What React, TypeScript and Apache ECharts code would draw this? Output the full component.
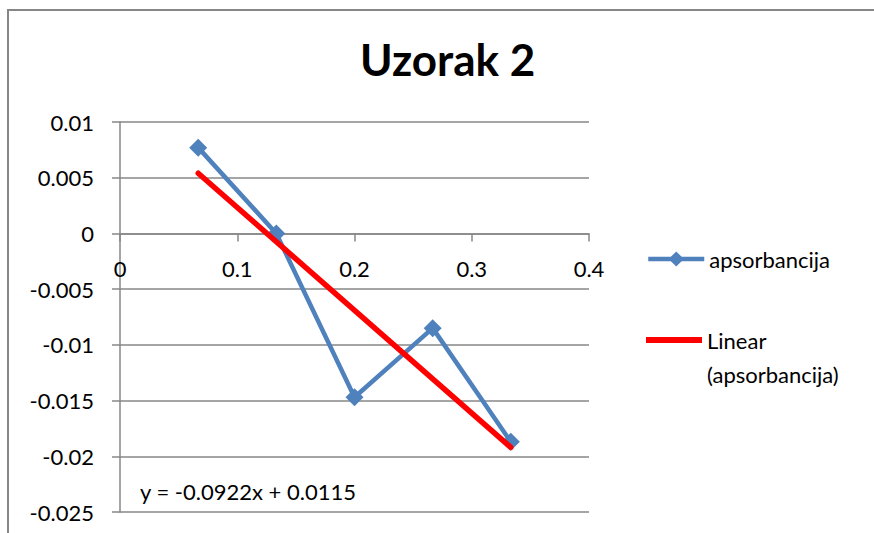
import React, { useEffect, useRef } from "react";
import * as echarts from "echarts";

const titleText = "Uzorak 2";
const seriesName = "apsorbancija";
const trendName = "Linear (apsorbancija)";
const equationText = "y = -0.0922x + 0.0115";

const xValues = [0.0667, 0.1333, 0.2, 0.2667, 0.3333];
const absorbance = [0.0077, 0.0, -0.0147, -0.0085, -0.0187];
const trendX = [0.0667, 0.3333];
const trendY = [0.0054, -0.0192];

const FONT = "Lato, 'Open Sans', sans-serif";
const GRID_GRAY = "#878787";

const GRID_TOP = 122;
const GRID_BOTTOM_PX = 512;
const Y_MIN = -0.025;
const Y_MAX = 0.01;

export default function App() {
  const ref = useRef<HTMLDivElement>(null);
  useEffect(() => {
    if (!ref.current) return;
    const chart = echarts.init(ref.current, null, { renderer: "svg" });
    const fmt = (v: number) => String(parseFloat(v.toFixed(4)));
    // pixel distance from the zero line to the bottom edge of the plot
    const zeroToBottom = ((0 - Y_MIN) / (Y_MAX - Y_MIN)) * (GRID_BOTTOM_PX - GRID_TOP);
    chart.setOption({
      animation: false,
      backgroundColor: "#ffffff",
      title: {
        text: titleText,
        left: 355,
        top: 32,
        textStyle: { fontFamily: FONT, fontWeight: "bold", fontSize: 44, color: "#000" },
      },
      grid: {
        left: 120,
        right: 285,
        top: GRID_TOP,
        bottom: 533 - GRID_BOTTOM_PX,
        containLabel: false,
        outerBoundsMode: "none",
      },
      xAxis: {
        type: "value",
        min: 0,
        max: 0.4,
        interval: 0.1,
        axisLine: { show: true, onZero: true, lineStyle: { color: GRID_GRAY, width: 1.5 } },
        axisTick: { show: true, inside: false, length: 8, lineStyle: { color: GRID_GRAY, width: 1.5 } },
        axisLabel: {
          margin: 24 - zeroToBottom,
          fontFamily: FONT,
          fontSize: 22,
          color: "#000",
          formatter: fmt,
        },
        splitLine: { show: false },
      },
      yAxis: {
        type: "value",
        min: Y_MIN,
        max: Y_MAX,
        interval: 0.005,
        axisLine: { show: true, onZero: false, lineStyle: { color: GRID_GRAY, width: 1.5 } },
        axisTick: { show: true, inside: false, length: 8, lineStyle: { color: GRID_GRAY, width: 1.5 } },
        axisLabel: { margin: 26, fontFamily: FONT, fontSize: 22, color: "#000", formatter: fmt },
        splitLine: { show: true, lineStyle: { color: GRID_GRAY, width: 1.5 } },
      },
      legend: [
        {
          data: [seriesName],
          orient: "vertical",
          left: 646,
          top: 247,
          padding: 0,
          itemWidth: 56,
          itemHeight: 19,
          selectedMode: false,
          lineStyle: { width: 4.5 },
          textStyle: { fontFamily: FONT, fontSize: 22, color: "#000", lineHeight: 24 },
        },
        {
          data: [
            {
              name: trendName,
              icon: "path://M0,0 H56 V6 H0 Z M0,40 H0.01 V40.01 H0 Z",
            },
          ],
          orient: "vertical",
          left: 646,
          top: 323,
          padding: 0,
          itemWidth: 56,
          itemHeight: 40,
          selectedMode: false,
          formatter: () => "Linear\n(apsorbancija)",
          textStyle: { fontFamily: FONT, fontSize: 22, color: "#000", lineHeight: 34 },
        },
      ],
      graphic: [
        {
          type: "polyline",
          z: -10,
          silent: true,
          shape: { points: [[8, 600], [8, 10], [900, 10]] },
          style: { fill: "none", stroke: "#868686", lineWidth: 2 },
        },
        {
          type: "text",
          left: 140,
          top: 480,
          style: { text: equationText, font: `22px ${FONT}`, fill: "#000" },
        },
      ],
      series: [
        {
          name: seriesName,
          type: "line",
          data: xValues.map((x, i) => [x, absorbance[i]]),
          symbol: "diamond",
          symbolSize: 18,
          color: "#4F81BD",
          lineStyle: { color: "#4F81BD", width: 4.5 },
          itemStyle: { color: "#4F81BD" },
          z: 2,
        },
        {
          name: trendName,
          type: "line",
          data: trendX.map((x, i) => [x, trendY[i]]),
          symbol: "none",
          color: "#FF0000",
          lineStyle: { color: "#FF0000", width: 5.5, cap: "round" },
          itemStyle: { color: "#FF0000" },
          z: 3,
        },
      ],
    });
    return () => chart.dispose();
  }, []);
  return (
    <div
      ref={ref}
      style={{ position: "fixed", left: 0, top: 0, width: 874, height: 533 }}
    />
  );
}
